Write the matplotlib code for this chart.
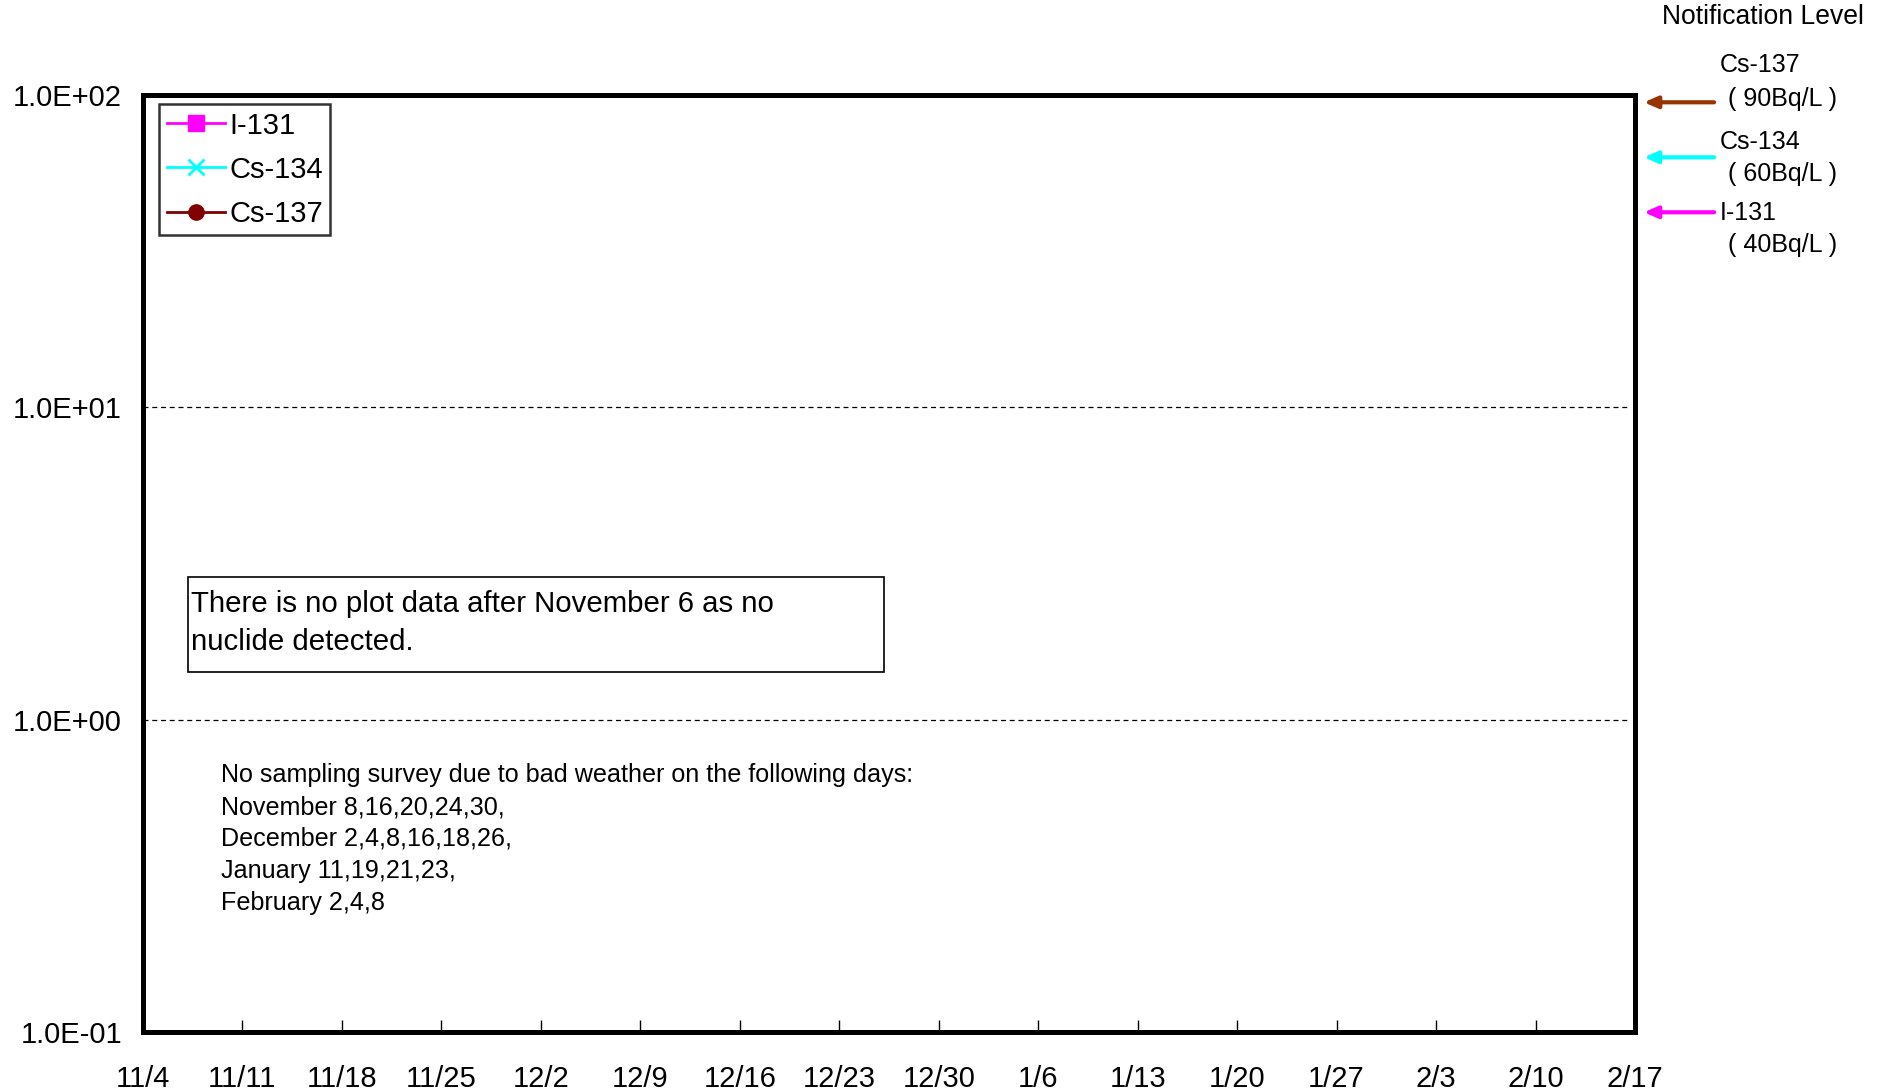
import datetime
import matplotlib
matplotlib.use("Agg")
import matplotlib.pyplot as plt
import matplotlib.dates as mdates
import matplotlib.transforms as mtransforms
from matplotlib.patches import Rectangle
from matplotlib.ticker import FixedLocator

plt.rcParams['font.family'] = ['Liberation Sans', 'DejaVu Sans']

# measured data (nothing detected in this period)
nuclides = ["I-131", "Cs-134", "Cs-137"]
sample_dates = []
i131_values = []
cs134_values = []
cs137_values = []

# notification levels (Bq/L)
level_names = ["Cs-137", "Cs-134", "I-131"]
level_values = [90, 60, 40]

start = datetime.date(2013, 11, 4)
end = datetime.date(2014, 2, 17)
tick_dates = [start + datetime.timedelta(days=7 * i) for i in range(16)]
tick_labels = ["%d/%d" % (d.month, d.day) for d in tick_dates]
y_ticks = [0.1, 1, 10, 100]
y_labels = ["1.0E-01", "1.0E+00", "1.0E+01", "1.0E+02"]

fig = plt.figure(figsize=(18.88, 10.92), dpi=100)
ax = fig.add_axes([0.0757, 0.055, 0.7903, 0.858])

ax.plot(sample_dates, i131_values, color='#FF00FF', marker='s', markersize=11, lw=2, label=nuclides[0])
ax.plot(sample_dates, cs134_values, color='#00FFFF', marker='x', markersize=11, mew=2, lw=2, label=nuclides[1])
ax.plot(sample_dates, cs137_values, color='#800000', marker='o', markersize=11, lw=2, label=nuclides[2])

ax.set_yscale('log')
ax.set_ylim(0.1, 100)
ax.set_xlim(mdates.date2num(start), mdates.date2num(end))
ax.yaxis.set_major_locator(FixedLocator(y_ticks))
ax.yaxis.set_minor_locator(FixedLocator([]))
ax.set_yticklabels(y_labels)
ax.set_xticks([mdates.date2num(d) for d in tick_dates])
ax.set_xticklabels(tick_labels)
ax.tick_params(axis='x', direction='in', length=9, width=1, pad=24, labelsize=21)
ax.tick_params(axis='y', length=0, pad=15, labelsize=21)
for sp in ax.spines.values():
    sp.set_linewidth(3.6)

for yv in [1, 10]:
    ax.axhline(yv, xmin=0, xmax=0.996, color='black', lw=0.9, ls=(0, (4, 3)))

leg = ax.legend(loc='upper left', bbox_to_anchor=(0.011, 0.99), fontsize=21, frameon=True,
                fancybox=False, edgecolor='black', handlelength=2.0, handletextpad=0.15,
                borderpad=0.25, labelspacing=0.55, borderaxespad=0)
leg.get_frame().set_linewidth(1.8)

# note box
ax.add_patch(Rectangle((0.030, 0.384), 0.467, 0.102, transform=ax.transAxes,
                       fill=False, edgecolor='black', lw=1.2))
ax.text(0.032, 0.436, "There is no plot data after November 6 as no\nnuclide detected.",
        transform=ax.transAxes, fontsize=21.2, va='center', ha='left', linespacing=1.46)

ax.text(0.052, 0.206, "No sampling survey due to bad weather on the following days:\n"
        "November 8,16,20,24,30,\nDecember 2,4,8,16,18,26,\nJanuary 11,19,21,23,\nFebruary 2,4,8",
        transform=ax.transAxes, fontsize=18.1, va='center', ha='left', linespacing=1.41)

# notification level arrows (shifted up a few pixels as in the original drawing)
arrow_colors = ['#993300', '#00FFFF', '#FF00FF']
trans = ax.get_yaxis_transform() + mtransforms.Affine2D().translate(0, 7)
for name, val, col in zip(level_names, level_values, arrow_colors):
    ax.annotate("", xy=(1.006, val), xytext=(1.053, val), xycoords=trans, textcoords=trans,
                arrowprops=dict(arrowstyle='-|>,head_length=0.8,head_width=0.35', color=col, lw=3,
                                shrinkA=0, shrinkB=0), annotation_clip=False)

fs = 18
fig.text(1720 / 1888, 1 - 65 / 1092, "Cs-137", fontsize=fs, va='center', ha='left')
fig.text(1728 / 1888, 1 - 99 / 1092, "( 90Bq/L )", fontsize=fs, va='center', ha='left')
fig.text(1720 / 1888, 1 - 142 / 1092, "Cs-134", fontsize=fs, va='center', ha='left')
fig.text(1728 / 1888, 1 - 174 / 1092, "( 60Bq/L )", fontsize=fs, va='center', ha='left')
fig.text(1720 / 1888, 1 - 213 / 1092, "I-131", fontsize=fs, va='center', ha='left')
fig.text(1728 / 1888, 1 - 245 / 1092, "( 40Bq/L )", fontsize=fs, va='center', ha='left')
fig.text(1763 / 1888, 1 - 17 / 1092, "Notification Level", fontsize=19.1, va='center', ha='center')

fig.savefig("out.png", dpi=100)
